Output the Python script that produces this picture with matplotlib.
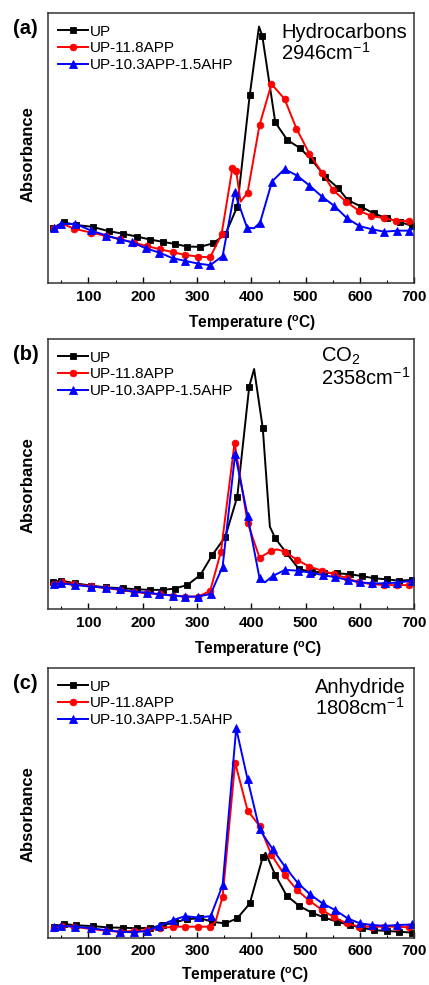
import numpy as np
import matplotlib
matplotlib.use("Agg")
import matplotlib.pyplot as plt
from matplotlib.ticker import MultipleLocator

plt.rcParams['font.family'] = ['Liberation Sans', 'DejaVu Sans']
plt.rcParams['mathtext.fontset'] = 'custom'
plt.rcParams['mathtext.rm'] = 'Liberation Sans'
plt.rcParams['mathtext.bf'] = 'Liberation Sans:bold'
plt.rcParams['mathtext.it'] = 'Liberation Sans:italic'

series_names = ["UP", "UP-11.8APP", "UP-10.3APP-1.5AHP"]
x_ticks = [100, 200, 300, 400, 500, 600, 700]

# ---------- Panel (a): Hydrocarbons 2946 cm-1 ----------
a_up_T = [34, 54, 77, 108, 137, 163, 189, 214, 238, 259, 282, 306, 329, 352, 374, 397, 420, 444, 466, 490, 511, 536, 560, 577, 602, 625, 649, 673, 696]
a_up_v = [0.205, 0.226, 0.216, 0.209, 0.193, 0.184, 0.173, 0.162, 0.153, 0.146, 0.136, 0.135, 0.148, 0.181, 0.284, 0.698, 0.917, 0.596, 0.531, 0.500, 0.457, 0.395, 0.352, 0.309, 0.284, 0.259, 0.241, 0.228, 0.212]
a_up_xT = [414, 700]
a_up_xv = [0.951, 0.210]

a_red_T = [36, 74, 104, 133, 158, 183, 207, 232, 256, 278, 302, 324, 345, 365, 372, 393, 415, 437, 461, 483, 507, 530, 551, 575, 598, 621, 645, 667, 691]
a_red_v = [0.205, 0.202, 0.188, 0.175, 0.163, 0.151, 0.138, 0.126, 0.115, 0.105, 0.099, 0.096, 0.181, 0.426, 0.417, 0.336, 0.586, 0.738, 0.683, 0.573, 0.479, 0.410, 0.344, 0.301, 0.269, 0.249, 0.241, 0.231, 0.231]
a_red_xT = [52, 380, 700]
a_red_xv = [0.220, 0.302, 0.220]

a_blue_T = [36, 50, 76, 104, 133, 158, 180, 205, 230, 255, 278, 302, 324, 347, 369, 392, 416, 438, 461, 484, 507, 530, 553, 576, 599, 622, 645, 668, 691]
a_blue_v = [0.205, 0.220, 0.220, 0.196, 0.177, 0.163, 0.152, 0.130, 0.114, 0.093, 0.083, 0.073, 0.067, 0.101, 0.338, 0.206, 0.225, 0.377, 0.423, 0.399, 0.362, 0.321, 0.286, 0.241, 0.212, 0.200, 0.191, 0.195, 0.195]
a_blue_xT = [405, 700]
a_blue_xv = [0.204, 0.205]

# ---------- Panel (b): CO2 2358 cm-1 ----------
b_up_T = [34, 50, 76, 104, 133, 163, 189, 214, 238, 259, 282, 306, 328, 352, 374, 396, 421, 444, 465, 488, 511, 534, 558, 582, 603, 626, 649, 672, 696]
b_up_v = [0.102, 0.106, 0.096, 0.088, 0.081, 0.078, 0.074, 0.072, 0.072, 0.077, 0.090, 0.127, 0.201, 0.269, 0.417, 0.825, 0.670, 0.263, 0.207, 0.148, 0.140, 0.136, 0.133, 0.130, 0.123, 0.115, 0.111, 0.106, 0.109]
b_up_xT = [405, 434, 700]
b_up_xv = [0.890, 0.306, 0.105]

b_red_T = [36, 51, 74, 104, 133, 158, 183, 207, 232, 256, 278, 302, 324, 344, 369, 393, 415, 437, 461, 484, 507, 530, 553, 576, 599, 622, 645, 668, 691]
b_red_v = [0.094, 0.100, 0.093, 0.086, 0.078, 0.072, 0.065, 0.059, 0.056, 0.051, 0.047, 0.047, 0.068, 0.214, 0.617, 0.321, 0.191, 0.217, 0.214, 0.183, 0.158, 0.143, 0.130, 0.115, 0.100, 0.093, 0.090, 0.089, 0.090]
b_red_xT = [447, 700]
b_red_xv = [0.222, 0.090]

b_blue_T = [36, 50, 76, 104, 133, 158, 183, 207, 230, 255, 278, 302, 325, 347, 370, 393, 415, 439, 462, 485, 508, 531, 554, 577, 600, 623, 646, 669, 696]
b_blue_v = [0.094, 0.096, 0.090, 0.084, 0.080, 0.074, 0.065, 0.062, 0.056, 0.051, 0.047, 0.047, 0.057, 0.158, 0.575, 0.346, 0.115, 0.123, 0.146, 0.143, 0.136, 0.127, 0.119, 0.109, 0.100, 0.096, 0.096, 0.099, 0.106]
b_blue_xT = [425, 700]
b_blue_xv = [0.100, 0.107]

# ---------- Panel (c): Anhydride 1808 cm-1 ----------
c_up_T = [36, 54, 77, 108, 137, 163, 189, 214, 238, 259, 282, 306, 328, 352, 374, 397, 421, 444, 465, 488, 511, 534, 558, 582, 603, 626, 649, 672, 696]
c_up_v = [0.041, 0.051, 0.046, 0.043, 0.038, 0.037, 0.035, 0.037, 0.047, 0.057, 0.069, 0.072, 0.059, 0.053, 0.072, 0.127, 0.300, 0.233, 0.156, 0.118, 0.093, 0.075, 0.059, 0.047, 0.037, 0.028, 0.025, 0.022, 0.019]
c_up_xT = [426, 700]
c_up_xv = [0.315, 0.019]

c_red_T = [36, 51, 74, 104, 133, 158, 183, 207, 232, 256, 278, 302, 324, 347, 370, 393, 415, 437, 461, 484, 507, 530, 553, 576, 599, 622, 645, 668, 691]
c_red_v = [0.035, 0.044, 0.041, 0.032, 0.026, 0.022, 0.025, 0.028, 0.035, 0.041, 0.041, 0.041, 0.041, 0.152, 0.650, 0.472, 0.415, 0.307, 0.233, 0.177, 0.137, 0.103, 0.075, 0.053, 0.041, 0.041, 0.041, 0.041, 0.038]
c_red_xT = [334, 700]
c_red_xv = [0.060, 0.038]

c_blue_T = [36, 50, 76, 104, 133, 158, 183, 207, 230, 255, 278, 302, 325, 347, 372, 393, 415, 439, 462, 485, 508, 531, 554, 577, 600, 623, 646, 669, 696]
c_blue_v = [0.041, 0.044, 0.041, 0.035, 0.028, 0.022, 0.020, 0.025, 0.044, 0.065, 0.080, 0.075, 0.080, 0.195, 0.777, 0.588, 0.402, 0.329, 0.263, 0.204, 0.161, 0.127, 0.103, 0.072, 0.053, 0.047, 0.044, 0.047, 0.049]
c_blue_xT = [700]
c_blue_xv = [0.049]

panels = [
    ("(a)", "Hydrocarbons\n2946cm$^{\\mathregular{-1}}$",
     [(a_up_T, a_up_v, a_up_xT, a_up_xv), (a_red_T, a_red_v, a_red_xT, a_red_xv), (a_blue_T, a_blue_v, a_blue_xT, a_blue_xv)]),
    ("(b)", "CO$_{\\mathregular{2}}$\n2358cm$^{\\mathregular{-1}}$",
     [(b_up_T, b_up_v, b_up_xT, b_up_xv), (b_red_T, b_red_v, b_red_xT, b_red_xv), (b_blue_T, b_blue_v, b_blue_xT, b_blue_xv)]),
    ("(c)", "Anhydride\n1808cm$^{\\mathregular{-1}}$",
     [(c_up_T, c_up_v, c_up_xT, c_up_xv), (c_red_T, c_red_v, c_red_xT, c_red_xv), (c_blue_T, c_blue_v, c_blue_xT, c_blue_xv)]),
]

colors = ["#000000", "#ff0000", "#0000ff"]
markers = ["s", "o", "^"]
msizes = [4.2, 4.8, 5.2]

W, H = 429, 985
fig = plt.figure(figsize=(W / 100, H / 100), dpi=100)

# pixel boxes: left, top, right, bottom
boxes = [(48.3, 13.3, 414.3, 283.3), (48.3, 339.3, 414.3, 609.3), (48.3, 668.3, 414.3, 937.7)]
note_pos = [(281, 23), (321, 346), (315, 678)]
xlab_x = [0.556, 0.573, 0.537]
xlab_y = [-0.112, -0.112, -0.104]
ylab_y = [0.48, 0.46, 0.46]

for (letter, note, sers), (l, t, r, b), (nx, ny), xlx, xly, yly in zip(panels, boxes, note_pos, xlab_x, xlab_y, ylab_y):
    ax = fig.add_axes([l / W, 1 - b / H, (r - l) / W, (b - t) / H])
    handles = []
    for (T, v, xT, xv), c, m, ms, name in zip(sers, colors, markers, msizes, series_names):
        allT = np.array(list(T) + list(xT), dtype=float)
        allv = np.array(list(v) + list(xv), dtype=float)
        is_mark = np.array([True] * len(T) + [False] * len(xT))
        order = np.argsort(allT, kind="stable")
        allT, allv, is_mark = allT[order], allv[order], is_mark[order]
        idx = list(np.nonzero(is_mark)[0])
        h, = ax.plot(allT, allv, color=c, lw=1.4, marker=m, ms=ms, markevery=idx,
                     markeredgewidth=0.6, label=name, solid_joinstyle='round')
        handles.append(h)
    ax.set_xlim(26, 700)
    ax.set_ylim(0, 1)
    ax.set_xticks(x_ticks)
    ax.xaxis.set_minor_locator(MultipleLocator(50))
    ax.set_yticks([])
    ax.tick_params(axis='x', which='major', direction='in', length=4, width=1, pad=4.5,
                   labelsize=11)
    ax.tick_params(axis='x', which='minor', direction='in', length=2.5, width=0.8)
    for lab in ax.get_xticklabels():
        lab.set_fontweight('bold')
    for sp in ax.spines.values():
        sp.set_linewidth(1.1)
        sp.set_color('#333333')
    ax.set_xlabel("Temperature ($^{\\mathbf{o}}$C)", fontsize=11.2, fontweight='bold')
    ax.xaxis.set_label_coords(xlx, xly)
    ax.set_ylabel("Absorbance", fontsize=12, fontweight='bold')
    ax.yaxis.set_label_coords(-0.036, yly)
    ax.legend(handles=handles, loc='upper left', bbox_to_anchor=(0.026, 0.958), frameon=False,
              fontsize=11, handlelength=1.96, handletextpad=0.13, labelspacing=0.18,
              borderaxespad=0.0, borderpad=0.0, numpoints=1)
    fig.text(13 / W, 1 - (t + 15) / H, letter, fontsize=14.5, fontweight='bold', va='center', ha='left')
    fig.text(nx / W, 1 - ny / H, note, fontsize=14.5, va='top', ha='left', linespacing=1.0)

fig.savefig("out.png", dpi=100)
